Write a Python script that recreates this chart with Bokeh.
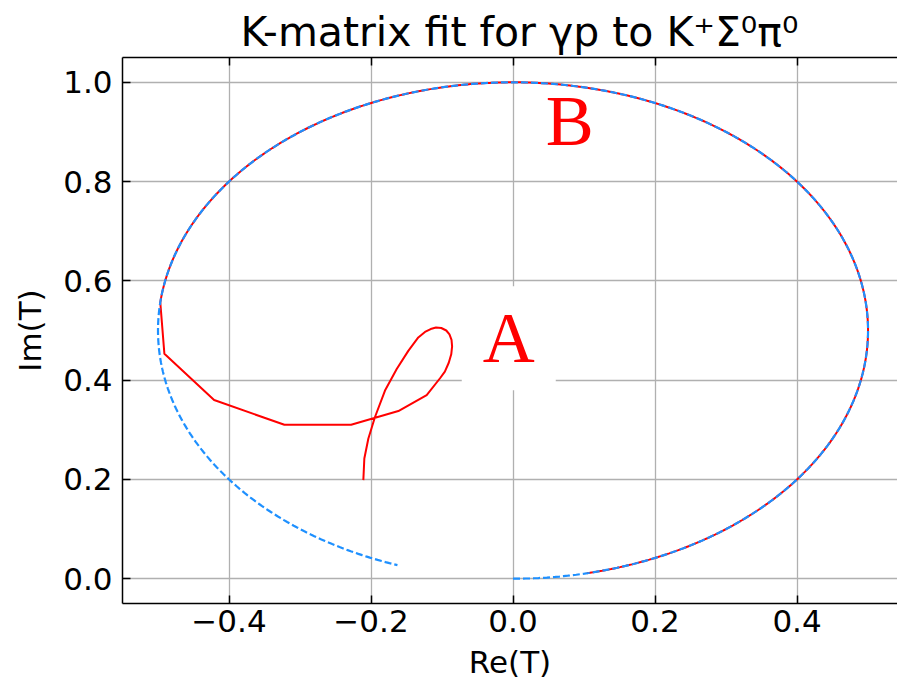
import numpy as np
from bokeh.plotting import figure
from bokeh.models import Range1d, FixedTicker, CustomJSTickFormatter, LinearAxis, Label
from bokeh.embed import file_html
from bokeh.resources import INLINE

# ---------------- data ----------------
title_text = "K-matrix fit for γp to K⁺Σ⁰π⁰"
x_label = "Re(T)"
y_label = "Im(T)"
x_ticks = [-0.4, -0.2, 0.0, 0.2, 0.4]
y_ticks = [0.0, 0.2, 0.4, 0.6, 0.8, 1.0]

# unitarity circle |T - i/2| = 1/2 (reference curve) and the arc limits
circle_re0 = 0.0
circle_im0 = 0.5
circle_r = 0.5
blue_arc_deg = (-90.0, 251.0)   # blue dashed unitarity circle
red_arc_deg = (-78.0, 173.5)    # part of the red fit lying on the circle

# red fit, off-circle part
red_re = [-0.491, -0.421, -0.322, -0.228, -0.1615, -0.1216, -0.1028, -0.0960, -0.0905,
          -0.0870, -0.0858, -0.0866, -0.0895, -0.0940, -0.1010, -0.1085, -0.1160,
          -0.1240, -0.1334, -0.1475, -0.1638, -0.1803, -0.1944, -0.2038, -0.2094, -0.2108]
red_im = [0.453, 0.360, 0.310, 0.310, 0.3377, 0.370, 0.4038, 0.417, 0.435,
          0.452, 0.468, 0.481, 0.492, 0.500, 0.505, 0.506, 0.503,
          0.497, 0.486, 0.459, 0.4225, 0.379, 0.3257, 0.282, 0.242, 0.1985]

# region labels
label_text = ["A", "B"]
label_re = [-0.006, 0.080]
label_im = [0.4845, 0.9217]


def unitarity_arc(a0, a1, n=500):
    t = np.radians(np.linspace(a0, a1, n))
    return circle_re0 + circle_r * np.cos(t), circle_im0 + circle_r * np.sin(t)


bx, by = unitarity_arc(*blue_arc_deg)
rx, ry = unitarity_arc(*red_arc_deg)
red_x = np.concatenate([rx, red_re])
red_y = np.concatenate([ry, red_im])

# ---------------- figure ----------------
p = figure(width=897, height=682,
           x_range=Range1d(-0.55, 0.5415), y_range=Range1d(-0.05, 1.05),
           output_backend="svg", toolbar_location=None,
           min_border_left=122, min_border_right=0, min_border_top=57, min_border_bottom=77,
           outline_line_color=None, background_fill_color="white", border_fill_color="white")

p.title.text = title_text
p.title.text_font = "DejaVu Sans"
p.title.text_font_size = "41px"
p.title.text_font_style = "normal"
p.title.text_color = "black"
p.title.align = "left"
p.title.offset = 118
p.title.standoff = 4

p.line(red_x, red_y, line_color="red", line_width=2)
p.line(bx, by, line_color="#1E90FF", line_width=2.2, line_dash="7 3")

fmt = CustomJSTickFormatter(code="return (tick < 0 ? '\\u2212' : '') + Math.abs(tick).toFixed(1);")
xt = FixedTicker(ticks=x_ticks)
yt = FixedTicker(ticks=y_ticks)

for ax, t in ((p.xaxis[0], xt), (p.yaxis[0], yt)):
    ax.ticker = t
    ax.formatter = fmt
    ax.axis_line_width = 1.5
    ax.axis_line_color = "black"
    ax.major_tick_line_width = 1.5
    ax.major_tick_in = 8
    ax.major_tick_out = 0
    ax.minor_tick_line_color = None
    ax.major_label_text_font = "DejaVu Sans"
    ax.major_label_text_font_size = "31px"
    ax.major_label_text_color = "black"
    ax.axis_label_text_font = "DejaVu Sans"
    ax.axis_label_text_font_size = "31px"
    ax.axis_label_text_font_style = "normal"
    ax.axis_label_text_color = "black"

p.xaxis[0].axis_label = x_label
p.xaxis[0].major_label_standoff = 6
p.xaxis[0].major_label_text_line_height = 1.0
p.xaxis[0].axis_label_text_line_height = 1.0
p.xaxis[0].axis_label_standoff = 9
p.yaxis[0].axis_label = y_label
p.yaxis[0].major_label_standoff = 10
p.yaxis[0].axis_label_standoff = 12

top = LinearAxis(ticker=xt, formatter=CustomJSTickFormatter(code="return '';"),
                 major_label_text_font_size="1px", major_label_standoff=0,
                 major_tick_in=8, major_tick_out=0, minor_tick_line_color=None,
                 axis_line_width=1.5, major_tick_line_width=1.5)
p.add_layout(top, "above")

for g, t in ((p.xgrid[0], xt), (p.ygrid[0], yt)):
    g.ticker = t
    g.grid_line_color = "#b0b0b0"
    g.grid_line_width = 1.3

for txt, lx, ly in zip(label_text, label_re, label_im):
    lab = Label(x=lx, y=ly, text=txt, text_align="center", text_baseline="alphabetic",
                text_font="Liberation Serif", text_font_size="72px", text_color="red")
    if txt == "A":
        lab.background_fill_color = "white"
        lab.padding = (21, 12)
    p.add_layout(lab)

open("out.html", "w").write(file_html(p, INLINE))
